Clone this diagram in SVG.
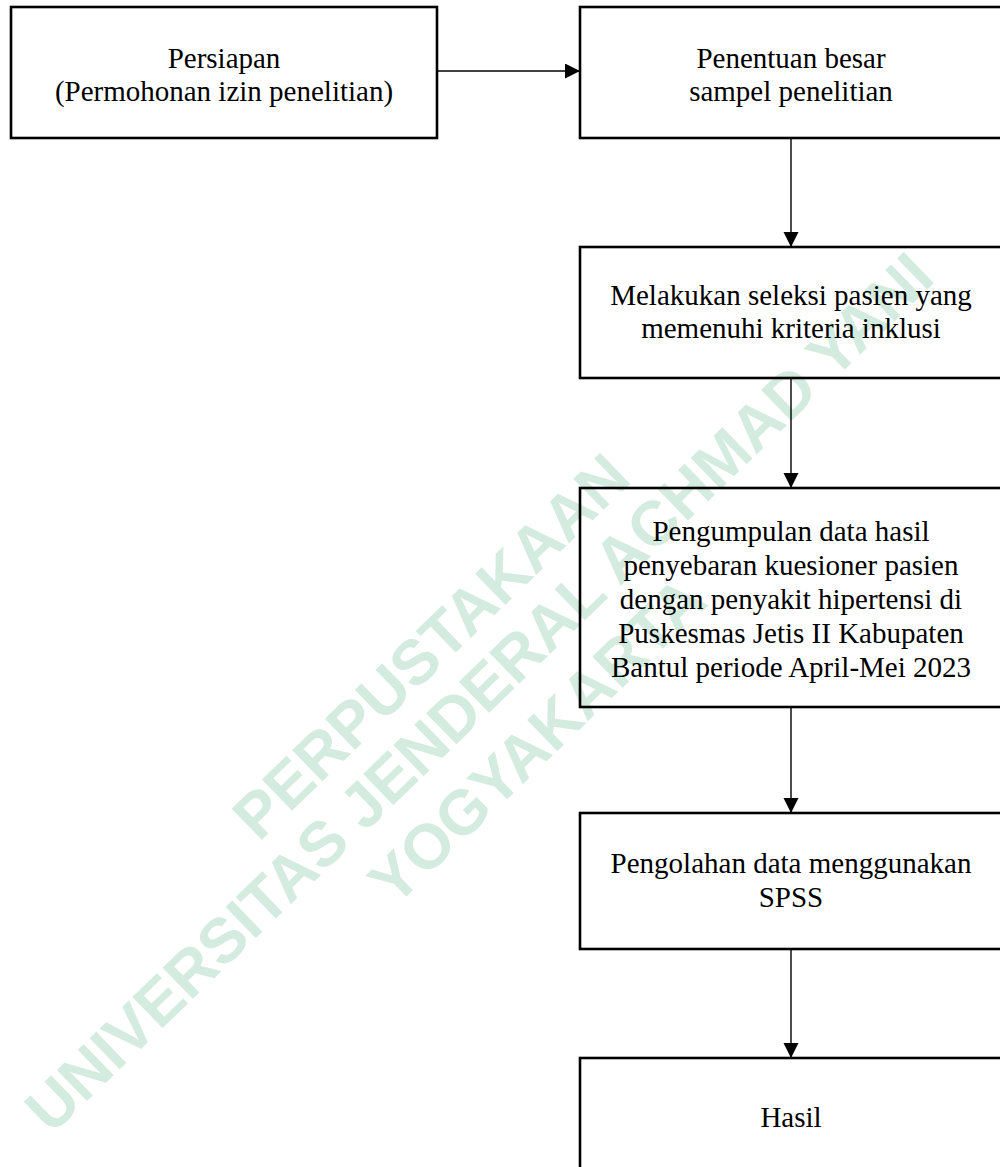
<svg xmlns="http://www.w3.org/2000/svg" width="1000" height="1167" viewBox="0 0 1000 1167">
<style>
.box{fill:none;stroke:#000;stroke-width:2.6}
.lbl{font-family:"Liberation Serif","Times New Roman",serif;font-size:29px;fill:#000;text-anchor:middle}
.wm{font-family:"Liberation Sans",Arial,sans-serif;font-weight:bold;font-size:63px;fill:#d4ebdf;text-anchor:middle}
.con{fill:none;stroke:#000;stroke-width:1.4}
</style>
<defs>
<marker id="ah" markerUnits="userSpaceOnUse" markerWidth="16" markerHeight="16" refX="15" refY="7.5" orient="auto">
<path d="M0,0 L15,7.5 L0,15 Z" fill="#000"/>
</marker>
</defs>
<rect width="1000" height="1167" fill="#fff"/>
<g id="watermark">
<text class="wm" transform="translate(446,662) rotate(-44)">PERPUSTAKAAN</text>
<text class="wm" transform="translate(494,708) rotate(-44)">UNIVERSITAS JENDERAL ACHMAD YANI</text>
<text class="wm" transform="translate(552,756) rotate(-44)">YOGYAKARTA</text>
</g>
<g id="connectors">
<line class="con" x1="437" y1="71" x2="580" y2="71" marker-end="url(#ah)"/>
<line class="con" x1="791" y1="138" x2="791" y2="247" marker-end="url(#ah)"/>
<line class="con" x1="791" y1="378" x2="791" y2="488" marker-end="url(#ah)"/>
<line class="con" x1="791" y1="707" x2="791" y2="813" marker-end="url(#ah)"/>
<line class="con" x1="791" y1="949" x2="791" y2="1058" marker-end="url(#ah)"/>
</g>
<g id="n1">
<rect class="box" x="11" y="7" width="426" height="131"/>
<text class="lbl" x="224" y="68">Persiapan</text>
<text class="lbl" x="224" y="101">(Permohonan izin penelitian)</text>
</g>
<g id="n2">
<rect class="box" x="580" y="7" width="422" height="131"/>
<text class="lbl" x="791" y="68">Penentuan besar</text>
<text class="lbl" x="791" y="101">sampel penelitian</text>
</g>
<g id="n3">
<rect class="box" x="580" y="247" width="422" height="131"/>
<text class="lbl" x="791" y="305">Melakukan seleksi pasien yang</text>
<text class="lbl" x="791" y="338">memenuhi kriteria inklusi</text>
</g>
<g id="n4">
<rect class="box" x="580" y="488" width="422" height="219"/>
<text class="lbl" x="791" y="541">Pengumpulan data hasil</text>
<text class="lbl" x="791" y="575">penyebaran kuesioner pasien</text>
<text class="lbl" x="791" y="609">dengan penyakit hipertensi di</text>
<text class="lbl" x="791" y="643">Puskesmas Jetis II Kabupaten</text>
<text class="lbl" x="791" y="677">Bantul periode April-Mei 2023</text>
</g>
<g id="n5">
<rect class="box" x="580" y="813" width="422" height="136"/>
<text class="lbl" x="791" y="873">Pengolahan data menggunakan</text>
<text class="lbl" x="791" y="907">SPSS</text>
</g>
<g id="n6">
<rect class="box" x="580" y="1058" width="422" height="120"/>
<text class="lbl" x="791" y="1127">Hasil</text>
</g>
</svg>
